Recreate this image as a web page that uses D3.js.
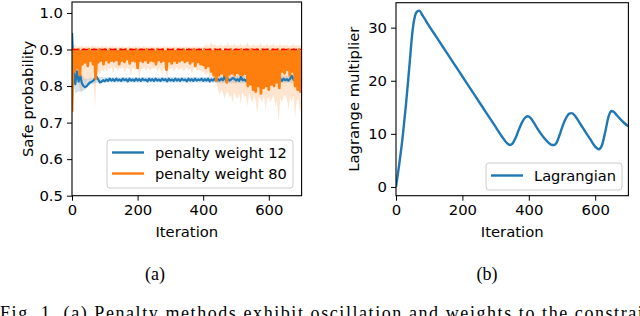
<!DOCTYPE html>
<html>
<head>
<meta charset="utf-8">
<script src="https://cdn.jsdelivr.net/npm/d3@7/dist/d3.min.js"></script>
<style>
  body { margin: 0; background: #fff; }
  svg { display: block; }
  text { font-family: "DejaVu Sans", sans-serif; fill: #000; }
</style>
</head>
<body>
<div id="chart"></div>
<script>
// ---- data ----
const xTickValues = [0, 200, 400, 600];
const safeTicks = [0.5, 0.6, 0.7, 0.8, 0.9, 1.0];
const lagTicks = [0, 10, 20, 30];
const safeThreshold = 0.9;

// penalty weight 12, one value every 5 iterations
const blueStep = 5;
const blueSeries = [
  .945, .845, .805, .84, .812, .83, .808, .80, .797, .80,
  .806, .81, .812, .815, .82, .825, .818, .81, .812, .816,
  .813, .818, .814, .82, .815, .819, .814, .82, .815, .818,
  .814, .82, .816, .819, .813, .82, .815, .818, .814, .82,
  .815, .819, .814, .82, .816, .818, .813, .82, .815, .819,
  .814, .82, .815, .818, .814, .82, .816, .819, .813, .82,
  .815, .818, .814, .82, .815, .819, .814, .82, .816, .818,
  .813, .82, .815, .819, .814, .82, .815, .818, .816, .82,
  .814, .819, .815, .82, .813, .818, .815, .82, .814, .819,
  .815, .82, .816, .826, .814, .82, .815, .818, .822, .82,
  .815, .819, .814, .825, .816, .818, .814, .82, .815, .819,
  .816, .82, .814, .818, .815, .82, .816, .819, .814, .82,
  .815, .818, .816, .82, .814, .826, .815, .82, .814, .82,
  .816, .819, .815, .82, .828, .818, .815, .82, .814, .819,
  .816
];
const blueBandIter = [0, 5, 10, 20, 30, 40, 50, 60, 80, 100, 200, 300, 400, 500, 600, 700];
const blueBandLo = [.93, .80, .78, .785, .785, .79, .80, .805, .81, .81, .81, .81, .81, .808, .808, .81];
const blueBandHi = [.95, .86, .85, .845, .83, .82, .82, .825, .825, .824, .824, .824, .825, .828, .83, .826];

// penalty weight 80, one value every 4 iterations
const orangeStep = 4;
const orangeSeries = [
  .73, .90, .84, .895, .85, .90, .83, .895, .86, .90,
  .865, .895, .855, .90, .87, .895, .86, .90, .82, .895,
  .865, .90, .87, .895, .86, .90, .872, .895, .865, .90,
  .87, .895, .868, .90, .872, .895, .86, .90, .87, .895,
  .866, .90, .874, .895, .862, .90, .87, .895, .868, .90,
  .85, .895, .87, .90, .866, .895, .872, .90, .864, .895,
  .87, .90, .868, .895, .86, .90, .872, .895, .866, .90,
  .87, .895, .845, .90, .868, .895, .862, .90, .87, .895,
  .864, .90, .868, .895, .872, .90, .866, .895, .87, .90,
  .862, .895, .868, .90, .855, .895, .866, .90, .86, .895,
  .858, .90, .85, .895, .855, .90, .84, .895, .83, .90,
  .815, .895, .83, .90, .835, .895, .83, .90, .81, .895,
  .832, .90, .835, .895, .83, .90, .836, .895, .832, .90,
  .83, .895, .834, .90, .80, .895, .805, .90, .79, .895,
  .785, .90, .80, .895, .78, .90, .795, .895, .80, .90,
  .79, .895, .805, .90, .80, .895, .81, .90, .795, .895,
  .84, .90, .835, .895, .845, .90, .83, .895, .84, .90,
  .80, .895, .79, .90, .785, .895
];
// spread of penalty weight 80, one value every 5 iterations
const orangeBandStep = 5;
const orangeBandHi = [
  .84, .91, .915, .905, .91, .908, .912, .905, .91, .907,
  .91, .905, .912, .908, .91, .906, .91, .905, .912, .907,
  .908, .91, .905, .912, .907, .91, .906, .909, .905, .91,
  .907, .91, .905, .909, .906, .912, .905, .909, .907, .91,
  .906, .91, .905, .908, .91, .906, .909, .905, .91, .907,
  .908, .905, .91, .906, .909, .905, .911, .907, .91, .906,
  .909, .905, .91, .907, .908, .906, .91, .905, .909, .907,
  .91, .906, .908, .905, .91, .907, .909, .906, .91, .905,
  .908, .91, .915, .908, .912, .92, .91, .915, .908, .912,
  .91, .915, .908, .912, .91, .918, .909, .913, .91, .915,
  .908, .912, .91, .916, .909, .913, .91, .92, .908, .912,
  .91, .915, .908, .913, .91, .917, .909, .912, .91, .915,
  .908, .913, .91, .916, .909, .912, .91, .915, .908, .913,
  .91, .914, .908, .912, .91, .915, .909, .912, .91, .913,
  .91
];
const orangeBandLo = [
  .62, .82, .80, .83, .81, .79, .78, .82, .80, .815,
  .82, .81, .825, .83, .74, .835, .84, .83, .845, .84,
  .848, .84, .85, .845, .852, .835, .85, .848, .842, .85,
  .845, .852, .84, .848, .85, .845, .83, .85, .848, .843,
  .85, .82, .848, .845, .852, .84, .85, .847, .843, .85,
  .846, .852, .84, .848, .845, .83, .85, .846, .82, .848,
  .845, .85, .84, .848, .852, .843, .847, .85, .84, .846,
  .85, .843, .848, .835, .845, .85, .84, .847, .843, .838,
  .84, .835, .83, .838, .825, .83, .82, .826, .81, .79,
  .775, .79, .78, .765, .78, .785, .77, .775, .755, .785,
  .77, .765, .78, .75, .785, .77, .775, .745, .78, .765,
  .755, .775, .76, .725, .77, .765, .755, .775, .735, .765,
  .77, .755, .765, .775, .745, .76, .70, .765, .755, .77,
  .775, .765, .735, .77, .755, .775, .715, .76, .765, .725,
  .755
];

// Lagrange multiplier
const lagIter = [0, 10, 20, 30, 40, 50, 55, 60, 65, 70, 80, 90, 100, 120, 140, 160, 180, 200,
  220, 240, 260, 280, 300, 320, 335, 343, 350, 360, 370, 380, 390, 397, 405, 415, 430, 445,
  460, 470, 476, 485, 495, 505, 515, 522, 530, 540, 555, 570, 585, 600, 611, 620, 630, 640,
  648, 655, 665, 680, 690, 700];
const lagValue = [0, 4.4, 9.4, 15.5, 22.5, 29.5, 31.6, 32.7, 33.1, 33.2, 32.3, 31.3, 30.3, 28.4, 26.5, 24.6, 22.7, 20.8,
  18.9, 17.0, 15.1, 13.2, 11.3, 9.4, 8.2, 7.9, 8.1, 9.2, 10.8, 12.2, 13.1, 13.3, 13.0, 12.1, 10.6, 9.3,
  8.3, 7.9, 7.9, 8.5, 10.2, 12.0, 13.3, 13.8, 13.9, 13.3, 11.9, 10.4, 9.0, 7.6, 7.1, 7.8, 10.3, 13.2,
  14.3, 14.2, 13.5, 12.5, 11.9, 11.4];

// ---- layout ----
const C = { blue: '#1f77b4', orange: '#ff7f0e', red: '#ff0000' };
const FS = 14.8;

const svg = d3.select('#chart').append('svg')
  .attr('width', 640).attr('height', 316);

function makeAxes(id, box, xDomain, yDomain, yTicks, yFmt, yLabel, yLabelX) {
  const x = d3.scaleLinear().domain(xDomain).range([box.left, box.right]);
  const y = d3.scaleLinear().domain(yDomain).range([box.bottom, box.top]);

  svg.append('clipPath').attr('id', id)
    .append('rect')
    .attr('x', box.left).attr('y', box.top)
    .attr('width', box.right - box.left).attr('height', box.bottom - box.top);

  const plot = svg.append('g').attr('clip-path', `url(#${id})`);

  const xAxis = svg.append('g')
    .attr('transform', `translate(0,${box.bottom})`)
    .call(d3.axisBottom(x).tickValues(xTickValues).tickSize(5).tickPadding(4).tickFormat(d3.format('d')));
  const yAxis = svg.append('g')
    .attr('transform', `translate(${box.left},0)`)
    .call(d3.axisLeft(y).tickValues(yTicks).tickSize(5).tickPadding(4).tickFormat(yFmt));
  [xAxis, yAxis].forEach(a => {
    a.select('.domain').remove();
    a.selectAll('line').attr('stroke', '#000').attr('stroke-width', 1);
    a.selectAll('text').style('font-size', FS + 'px').attr('fill', '#000')
      .style('font-family', '"DejaVu Sans", sans-serif');
  });

  // x label
  svg.append('text')
    .attr('x', (box.left + box.right) / 2).attr('y', 236.5)
    .attr('text-anchor', 'middle').style('font-size', FS + 'px')
    .text('Iteration');
  // y label
  svg.append('text')
    .attr('transform', `translate(${yLabelX},${(box.top + box.bottom) / 2}) rotate(-90)`)
    .attr('text-anchor', 'middle').style('font-size', FS + 'px')
    .text(yLabel);

  return { x, y, plot, box };
}

function drawFrame(ax) {
  const b = ax.box;
  svg.append('rect')
    .attr('x', b.left).attr('y', b.top)
    .attr('width', b.right - b.left).attr('height', b.bottom - b.top)
    .attr('fill', 'none').attr('stroke', '#000').attr('stroke-width', 1.1);
}

function legend(x0, y0, w, entries) {
  const h = entries.length * 21 + 6;
  const g = svg.append('g');
  g.append('rect')
    .attr('x', x0).attr('y', y0).attr('width', w).attr('height', h)
    .attr('rx', 3).attr('fill', '#fff').attr('fill-opacity', 0.8)
    .attr('stroke', '#cccccc').attr('stroke-width', 1);
  entries.forEach((e, i) => {
    const cy = y0 + 12.5 + i * 21;
    g.append('line')
      .attr('x1', x0 + 5).attr('x2', x0 + 37).attr('y1', cy).attr('y2', cy)
      .attr('stroke', e.color).attr('stroke-width', 2.4);
    g.append('text')
      .attr('x', x0 + 48).attr('y', cy + 5.2)
      .style('font-size', '14.6px').text(e.label);
  });
}

// ---- (a) safe probability ----
const axA = makeAxes('clipA', { left: 72, right: 301.6, top: 2, bottom: 195.7 },
  [0, 700], [0.5, 1.03], safeTicks, d3.format('.1f'), 'Safe probability', 33);

// light bands
axA.plot.append('path')
  .datum(blueBandIter.map((it, i) => ({ it, lo: blueBandLo[i], hi: blueBandHi[i] })))
  .attr('d', d3.area().x(d => axA.x(d.it)).y0(d => axA.y(d.lo)).y1(d => axA.y(d.hi)))
  .attr('fill', C.blue).attr('fill-opacity', 0.2);

axA.plot.append('path')
  .datum(orangeBandLo.map((lo, i) => ({ it: i * orangeBandStep, lo, hi: orangeBandHi[i] })))
  .attr('d', d3.area().x(d => axA.x(d.it)).y0(d => axA.y(d.lo)).y1(d => axA.y(d.hi)))
  .attr('fill', C.orange).attr('fill-opacity', 0.2);

// series lines
axA.plot.append('path')
  .datum(blueSeries.map((v, i) => ({ it: i * blueStep, v })))
  .attr('d', d3.line().x(d => axA.x(d.it)).y(d => axA.y(d.v)))
  .attr('fill', 'none').attr('stroke', C.blue).attr('stroke-width', 2.2)
  .attr('stroke-linejoin', 'round');

axA.plot.append('path')
  .datum(orangeSeries.map((v, i) => ({ it: i * orangeStep, v })))
  .attr('d', d3.line().x(d => axA.x(d.it)).y(d => axA.y(d.v)))
  .attr('fill', 'none').attr('stroke', C.orange).attr('stroke-width', 2.8)
  .attr('stroke-linejoin', 'round');

// threshold
axA.plot.append('line')
  .attr('x1', axA.x(0)).attr('x2', axA.x(700))
  .attr('y1', axA.y(safeThreshold)).attr('y2', axA.y(safeThreshold))
  .attr('stroke', C.red).attr('stroke-width', 1.6).attr('stroke-dasharray', '6.5,3');

drawFrame(axA);
legend(107, 140, 186, [
  { label: 'penalty weight 12', color: C.blue },
  { label: 'penalty weight 80', color: C.orange }
]);

// ---- (b) Lagrange multiplier ----
const axB = makeAxes('clipB', { left: 396, right: 628.4, top: 2.7, bottom: 195.7 },
  [0, 700], [-1.65, 34.7], lagTicks, d3.format('d'), 'Lagrange multiplier', 359);

axB.plot.append('path')
  .datum(lagIter.map((it, i) => ({ it, v: lagValue[i] })))
  .attr('d', d3.line().curve(d3.curveMonotoneX).x(d => axB.x(d.it)).y(d => axB.y(d.v)))
  .attr('fill', 'none').attr('stroke', C.blue).attr('stroke-width', 2.4)
  .attr('stroke-linejoin', 'round');

drawFrame(axB);
legend(486, 163, 136, [{ label: 'Lagrangian', color: C.blue }]);

// ---- captions ----
const serif = '"Liberation Serif", "Times New Roman", serif';
[['(a)', 155], ['(b)', 487]].forEach(([t, cx]) => {
  svg.append('text').attr('x', cx).attr('y', 280)
    .attr('text-anchor', 'middle')
    .style('font-family', serif).style('font-size', '18px')
    .text(t);
});
svg.append('text').attr('x', 0).attr('y', 319)
  .attr('textLength', 660).attr('lengthAdjust', 'spacing')
  .style('font-family', serif).style('font-size', '18px')
  .text('Fig. 1.   (a) Penalty methods exhibit oscillation and weights to the constraint');
</script>
</body>
</html>
